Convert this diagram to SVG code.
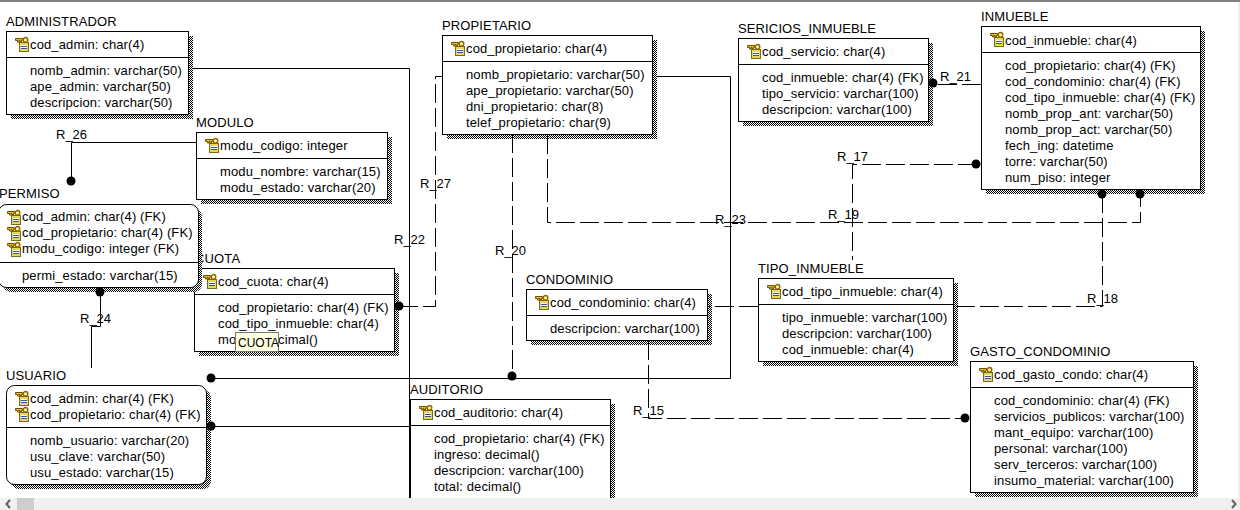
<svg xmlns="http://www.w3.org/2000/svg" width="1240" height="510" viewBox="0 0 1240 510">
<style>
text{font-family:"Liberation Sans",Arial,sans-serif;font-size:13px;fill:#000;letter-spacing:.13px}
#connectors text{letter-spacing:0}
#tooltip text{letter-spacing:0;font-size:12px}
.box{fill:#fff;stroke:#000;stroke-width:1}
.div{stroke:#000;stroke-width:1;fill:none}
.sh{fill:url(#dither)}
.ln{fill:none;stroke:#000;stroke-width:1}
.ds{fill:none;stroke:#000;stroke-width:1;stroke-dasharray:19 5}
.dot{fill:#000}
</style>
<defs>
<pattern id="dither" width="2" height="2" patternUnits="userSpaceOnUse"><rect width="2" height="2" fill="#fff"/><rect width="1" height="1" fill="#000"/><rect x="1" y="1" width="1" height="1" fill="#000"/></pattern>
<g id="key">
<rect x="4.500" y="5.500" width="9" height="9" fill="#ecd65a" stroke="#7a6a10"/>
<rect x="6" y="8" width="6" height="4" fill="#fff"/>
<path d="M6 9.500h6M6 11.500h6" stroke="#2858a8" fill="none"/>
<path d="M0.500 1.500h7v2h-1v1.500h-1.500v-1.500h-1v1.500h-1.500v-1.500h-2z" fill="#e8b820" stroke="#6b5200"/>
<circle cx="10.500" cy="2.800" r="2.300" fill="#fff3b0" stroke="#8a6a00" stroke-width="1.400"/>
</g>
</defs>
<rect width="1240" height="510" fill="#fff"/>
<rect width="1240" height="2" fill="#808080"/>
<rect x="1238" y="2" width="2" height="496" fill="#f0f0f0"/>

<g id="administrador">
<rect class="sh" x="11" y="36" width="182" height="83"/><rect class="box" x="6.5" y="31.5" width="182" height="83"/><path class="div" d="M6 57.500H189"/>
<text x="6" y="26">ADMINISTRADOR</text><use href="#key" x="15" y="37"/><text x="30" y="49">cod_admin: char(4)</text>
<text x="30" y="75">nomb_admin: varchar(50)</text><text x="30" y="91">ape_admin: varchar(50)</text><text x="30" y="107">descripcion: varchar(50)</text>
</g>
<g id="modulo">
<rect class="sh" x="201" y="137" width="191" height="67"/><rect class="box" x="196.500" y="132.500" width="191" height="67"/><path class="div" d="M196 158.500H388"/>
<text x="196" y="127">MODULO</text><use href="#key" x="205" y="138"/><text x="220" y="150">modu_codigo: integer</text>
<text x="220" y="176">modu_nombre: varchar(15)</text><text x="220" y="192">modu_estado: varchar(20)</text>
</g>
<g id="cuota">
<text x="195" y="263">CUOTA</text>
<rect class="sh" x="199" y="273" width="200" height="83"/><rect class="box" x="194.500" y="268.500" width="200" height="83"/><path class="div" d="M194 294.500H395"/>
<use href="#key" x="203" y="274"/><text x="218" y="286">cod_cuota: char(4)</text>
<text x="218" y="312">cod_propietario: char(4) (FK)</text><text x="218" y="328">cod_tipo_inmueble: char(4)</text><text x="218" y="344">mo</text><text x="278" y="344">cimal()</text>
</g>
<g id="permiso">
<rect class="sh" x="3" y="209" width="199" height="83" rx="8"/><rect class="box" x="-1.500" y="204.500" width="200" height="83" rx="8"/><path class="div" d="M-2 262.500H199"/>
<text x="-1" y="198">PERMISO</text>
<use href="#key" x="7" y="210"/><text x="22" y="221">cod_admin: char(4) (FK)</text>
<use href="#key" x="7" y="226"/><text x="22" y="237">cod_propietario: char(4) (FK)</text>
<use href="#key" x="7" y="242"/><text x="22" y="253">modu_codigo: integer (FK)</text>
<text x="22" y="280">permi_estado: varchar(15)</text>
</g>
<g id="usuario">
<rect class="sh" x="11" y="390" width="200" height="99" rx="8"/><rect class="box" x="6.500" y="385.500" width="200" height="99" rx="8"/><path class="div" d="M6 427.500H207"/>
<text x="6" y="380">USUARIO</text>
<use href="#key" x="15" y="391"/><text x="30" y="403">cod_admin: char(4) (FK)</text>
<use href="#key" x="15" y="407"/><text x="30" y="419">cod_propietario: char(4) (FK)</text>
<text x="30" y="445">nomb_usuario: varchar(20)</text><text x="30" y="461">usu_clave: varchar(50)</text><text x="30" y="477">usu_estado: varchar(15)</text>
</g>
<g id="auditorio">
<rect class="sh" x="415" y="404" width="200" height="100"/><rect class="box" x="410.500" y="399.500" width="200" height="100"/><path class="div" d="M410 425.500H611"/>
<text x="410" y="394">AUDITORIO</text><use href="#key" x="419" y="405"/><text x="434" y="417">cod_auditorio: char(4)</text>
<text x="434" y="443">cod_propietario: char(4) (FK)</text><text x="434" y="459">ingreso: decimal()</text><text x="434" y="475">descripcion: varchar(100)</text><text x="434" y="491">total: decimal()</text>
</g>
<g id="propietario">
<rect class="sh" x="447" y="40" width="210" height="99"/><rect class="box" x="442.500" y="35.500" width="210" height="99"/><path class="div" d="M442 61.500H653"/>
<text x="442" y="30">PROPIETARIO</text><use href="#key" x="451" y="41"/><text x="466" y="53">cod_propietario: char(4)</text>
<text x="466" y="79">nomb_propietario: varchar(50)</text><text x="466" y="95">ape_propietario: varchar(50)</text><text x="466" y="111">dni_propietario: char(8)</text><text x="466" y="127">telef_propietario: char(9)</text>
</g>
<g id="sericios_inmueble">
<rect class="sh" x="743" y="43" width="190" height="83"/><rect class="box" x="738.500" y="38.500" width="190" height="83"/><path class="div" d="M738 64.500H929"/>
<text x="738" y="33">SERICIOS_INMUEBLE</text><use href="#key" x="747" y="44"/><text x="762" y="56">cod_servicio: char(4)</text>
<text x="762" y="82">cod_inmueble: char(4) (FK)</text><text x="762" y="98">tipo_servicio: varchar(100)</text><text x="762" y="114">descripcion: varchar(100)</text>
</g>
<g id="inmueble">
<rect class="sh" x="986" y="31" width="219" height="163"/><rect class="box" x="981.500" y="26.500" width="219" height="163"/><path class="div" d="M981 52.500H1201"/>
<text x="981" y="21">INMUEBLE</text><use href="#key" x="990" y="32"/><text x="1005" y="45">cod_inmueble: char(4)</text>
<text x="1005" y="70">cod_propietario: char(4) (FK)</text><text x="1005" y="86">cod_condominio: char(4) (FK)</text><text x="1005" y="102">cod_tipo_inmueble: char(4) (FK)</text><text x="1005" y="118">nomb_prop_ant: varchar(50)</text><text x="1005" y="134">nomb_prop_act: varchar(50)</text><text x="1005" y="150">fech_ing: datetime</text><text x="1005" y="166">torre: varchar(50)</text><text x="1005" y="182">num_piso: integer</text>
</g>
<g id="condominio">
<rect class="sh" x="531" y="294" width="181" height="51"/><rect class="box" x="526.500" y="289.500" width="181" height="51"/><path class="div" d="M526 315.500H708"/>
<text x="526" y="284">CONDOMINIO</text><use href="#key" x="535" y="295"/><text x="550" y="307">cod_condominio: char(4)</text>
<text x="550" y="333">descripcion: varchar(100)</text>
</g>
<g id="tipo_inmueble">
<rect class="sh" x="763" y="283" width="195" height="83"/><rect class="box" x="758.500" y="278.500" width="195" height="83"/><path class="div" d="M758 304.500H954"/>
<text x="758" y="273">TIPO_INMUEBLE</text><use href="#key" x="767" y="284"/><text x="782" y="296">cod_tipo_inmueble: char(4)</text>
<text x="782" y="322">tipo_inmueble: varchar(100)</text><text x="782" y="338">descripcion: varchar(100)</text><text x="782" y="354">cod_inmueble: char(4)</text>
</g>
<g id="gasto_condominio">
<rect class="sh" x="975" y="366" width="223" height="131"/><rect class="box" x="970.500" y="361.500" width="223" height="131"/><path class="div" d="M970 387.500H1194"/>
<text x="970" y="356">GASTO_CONDOMINIO</text><use href="#key" x="979" y="367"/><text x="994" y="379">cod_gasto_condo: char(4)</text>
<text x="994" y="405">cod_condominio: char(4) (FK)</text><text x="994" y="421">servicios_publicos: varchar(100)</text><text x="994" y="437">mant_equipo: varchar(100)</text><text x="994" y="453">personal: varchar(100)</text><text x="994" y="469">serv_terceros: varchar(100)</text><text x="994" y="485">insumo_material: varchar(100)</text>
</g>

<g id="connectors">
<path class="ln" d="M193 68.500H409.500V498"/>
<path class="ln" d="M196 142.500H71.500V181"/>
<path class="ln" d="M100.500 292V326.500H91.500V368"/>
<path class="ln" d="M211 378.500H730.500V76.500H657"/>
<path class="ln" d="M211 426.500H410"/>
<path class="ds" d="M399 306.500H435.500V76.500H442"/>
<path class="ds" d="M512.500 134V376"/>
<path class="ds" d="M547.500 135V222.500H1140.500V194"/>
<path class="ds" d="M1102.500 194V306.500H954"/>
<path class="ds" d="M758 306.500H708"/>
<path class="ds" d="M977 164.500H852.500V260"/>
<path class="ds" d="M981 84.500H933"/>
<path class="ds" d="M648.500 341V418.500H965"/>
<circle class="dot" cx="71" cy="181" r="4.500"/>
<circle class="dot" cx="100" cy="292" r="4.500"/>
<circle class="dot" cx="211" cy="378" r="4.500"/>
<circle class="dot" cx="211" cy="426" r="4.500"/>
<circle class="dot" cx="399" cy="306" r="4.500"/>
<circle class="dot" cx="512" cy="376" r="4.500"/>
<circle class="dot" cx="933" cy="83" r="4.500"/>
<circle class="dot" cx="976" cy="164" r="4.500"/>
<circle class="dot" cx="1102" cy="194" r="4.500"/>
<circle class="dot" cx="1140" cy="194" r="4.500"/>
<circle class="dot" cx="965" cy="418" r="4.500"/>
<text x="56" y="139">R_26</text>
<text x="394" y="244">R_22</text>
<text x="420" y="188">R_27</text>
<text x="495" y="255">R_20</text>
<text x="715" y="224">R_23</text>
<text x="837" y="161">R_17</text>
<text x="828" y="219">R_19</text>
<text x="940" y="81">R_21</text>
<text x="1087" y="303">R_18</text>
<text x="633" y="415">R_15</text>
<text x="80" y="323">R_24</text>
</g>

<g id="tooltip">
<rect x="235.500" y="332.500" width="43" height="19" fill="#ffffe1" stroke="#777"/>
<text x="238" y="347">CUOTA</text>
</g>
<g id="scrollbar">
<rect y="498" width="1240" height="12" fill="#f0f0f0"/>
<rect x="17" y="498" width="17" height="12" fill="#cdcdcd"/>
<path d="M10 500L6.500 504L10 508M1232 500L1235.500 504L1232 508" fill="none" stroke="#606060" stroke-width="2"/>
</g>
</svg>
